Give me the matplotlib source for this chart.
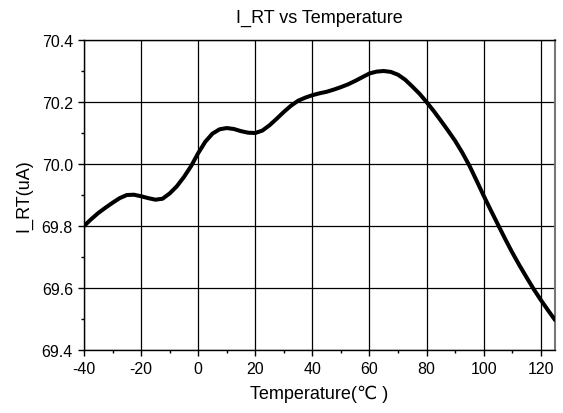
import numpy as np
import matplotlib
matplotlib.use('Agg')
import matplotlib.pyplot as plt
from matplotlib.ticker import MultipleLocator

plt.rcParams['font.family'] = ['Liberation Sans', 'DejaVu Sans', 'Noto Sans CJK SC']
plt.rcParams['axes.unicode_minus'] = False

# data
temp = [-40, -37.5, -35, -32.5, -30, -27.5, -25, -22.5, -20, -17.5, -15, -12.5,
        -10, -7.5, -5, -2.5, 0, 2.5, 5, 7.5, 10, 12.5, 15, 17.5, 20, 22.5, 25,
        27.5, 30, 32.5, 35, 37.5, 40, 42.5, 45, 47.5, 50, 52.5, 55, 57.5, 60,
        62.5, 65, 67.5, 70, 72.5, 75, 77.5, 80, 82.5, 85, 87.5, 90, 92.5, 95,
        97.5, 100, 102.5, 105, 107.5, 110, 112.5, 115, 117.5, 120, 122.5, 125]
i_rt = [69.800, 69.822, 69.842, 69.859, 69.875, 69.890, 69.900, 69.901, 69.896,
        69.890, 69.885, 69.888, 69.905, 69.928, 69.958, 69.993, 70.035, 70.072,
        70.098, 70.112, 70.116, 70.113, 70.106, 70.101, 70.100, 70.108, 70.125,
        70.146, 70.168, 70.188, 70.204, 70.214, 70.222, 70.228, 70.233, 70.240,
        70.248, 70.257, 70.268, 70.280, 70.292, 70.298, 70.300, 70.297, 70.288,
        70.272, 70.250, 70.227, 70.200, 70.171, 70.140, 70.108, 70.075, 70.037,
        69.995, 69.947, 69.898, 69.851, 69.805, 69.759, 69.715, 69.674, 69.635,
        69.597, 69.562, 69.529, 69.497]

x_ticks = [-40, -20, 0, 20, 40, 60, 80, 100, 120]
y_ticks = [69.4, 69.6, 69.8, 70.0, 70.2, 70.4]

fig = plt.figure(figsize=(5.63, 4.14), dpi=100)
ax = fig.add_axes([0.1492, 0.152, 0.8366, 0.749])

ax.plot(temp, i_rt, color='black', linewidth=2.9, solid_capstyle='round',
        solid_joinstyle='round', zorder=3)

ax.set_xlim(-40, 125)
ax.set_ylim(69.4, 70.4)
ax.set_xticks(x_ticks)
ax.set_yticks(y_ticks)
ax.set_yticklabels([f'{v:.1f}' for v in y_ticks])
ax.xaxis.set_minor_locator(MultipleLocator(10))
ax.yaxis.set_minor_locator(MultipleLocator(0.1))
ax.tick_params(which='major', direction='out', length=4, width=1, labelsize=11.5,
               pad=4, top=False, right=False)
ax.tick_params(which='minor', direction='out', length=2.5, width=1, top=False, right=False)
ax.grid(True, which='major', color='black', linewidth=0.9)

for s in ax.spines.values():
    s.set_color('black')
    s.set_linewidth(1)
ax.spines['right'].set_color('#777777')
ax.spines['right'].set_linewidth(1.5)

ax.set_title('I_RT vs Temperature', fontsize=13, pad=13)
ax.set_xlabel('Temperature(\u2103 )', fontsize=13, labelpad=6)
ax.set_ylabel('I_RT(uA)', fontsize=13, labelpad=7)

fig.savefig('out.png', dpi=100)
